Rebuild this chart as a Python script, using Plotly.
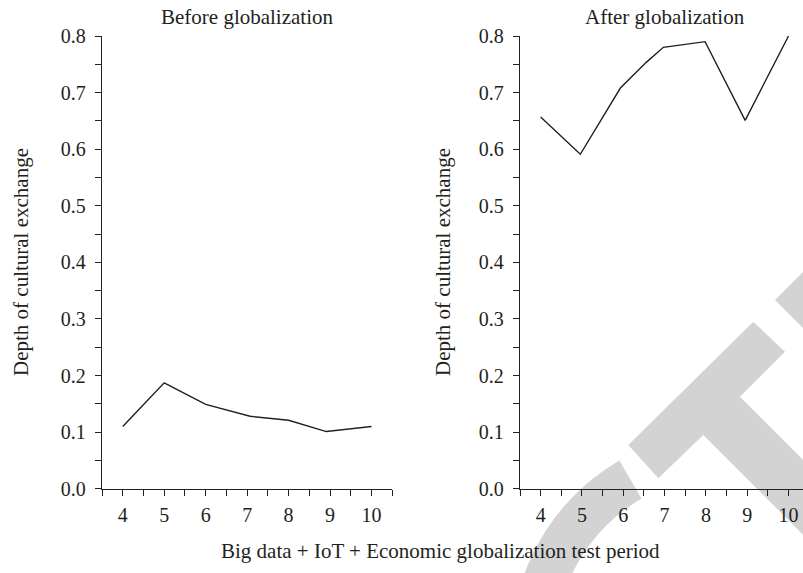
import numpy as np
import plotly.graph_objects as go

# Test periods and depth-of-cultural-exchange readings
before_period = [4, 5, 6, 7.07, 8, 8.91, 10]
before_depth = [0.11, 0.187, 0.149, 0.128, 0.121, 0.101, 0.11]

after_period = [4, 4.96, 5.93, 6.55, 6.97, 7.98, 8.95, 10]
after_depth = [0.657, 0.591, 0.708, 0.753, 0.780, 0.790, 0.651, 0.80]

x_ticks = [4, 5, 6, 7, 8, 9, 10]
y_ticks = [0.0, 0.1, 0.2, 0.3, 0.4, 0.5, 0.6, 0.7, 0.8]

panel_titles = ["Before globalization", "After globalization"]
y_title = "Depth of cultural exchange"
x_title = "Big data + IoT + Economic globalization test period"

W, H = 803, 573
INK = "#231f20"
FONT = "Liberation Serif"
FS_TICK = 20
FS_TITLE = 21


def px(x):
    return x / W


def py(y):
    return 1 - y / H


fig = go.Figure()
fig.add_trace(go.Scatter(x=before_period, y=before_depth, mode="lines",
                         line=dict(color=INK, width=1.4), xaxis="x", yaxis="y",
                         showlegend=False, hoverinfo="skip"))
fig.add_trace(go.Scatter(x=after_period, y=after_depth, mode="lines",
                         line=dict(color=INK, width=1.4), xaxis="x2", yaxis="y2",
                         showlegend=False, hoverinfo="skip"))

ydom = [py(488.7), py(36)]


def xaxis(domain, rng, anchor):
    return dict(domain=domain, range=rng, anchor=anchor, showgrid=False, zeroline=False,
                showline=True, linecolor=INK, linewidth=1.4,
                tickmode="array", tickvals=x_ticks, ticktext=[str(v) for v in x_ticks],
                ticks="outside", ticklen=6, tickwidth=1.3, tickcolor=INK,
                minor=dict(ticks="outside", ticklen=6, tickwidth=1.3, tickcolor=INK,
                           tick0=3.5, dtick=0.5),
                tickfont=dict(family=FONT, size=FS_TICK, color=INK), ticklabelstandoff=2)


def yaxis(anchor):
    return dict(domain=ydom, range=[0, 0.8], anchor=anchor, showgrid=False, zeroline=False,
                showline=True, linecolor=INK, linewidth=1.4,
                tickmode="array", tickvals=y_ticks, ticktext=[f"{v:.1f}" for v in y_ticks],
                ticks="outside", ticklen=6, tickwidth=1.3, tickcolor=INK,
                minor=dict(ticks="outside", ticklen=6, tickwidth=1.3, tickcolor=INK,
                           tick0=0, dtick=0.05),
                tickfont=dict(family=FONT, size=FS_TICK, color=INK), ticklabelstandoff=5)


# Grey diagonal watermark lettering, drawn underneath everything
def poly_path(pts):
    return "M " + " L ".join(f"{px(a):.5f},{py(b):.5f}" for a, b in pts) + " Z"


t_shape = [(628.3, 445), (658.3, 478.3), (703.3, 435), (850, 581.7), (850, 506.7),
           (740, 396.7), (785, 351.7), (753.3, 321.7)]
wedge = [(775, 300), (835, 240), (835, 360)]
cx, cy, r_out, r_in = 729, 649, 218, 174
th = np.radians(np.linspace(239.8, 175, 60))
arc = [(cx + r_out * np.cos(t), cy + r_out * np.sin(t)) for t in th] + \
      [(cx + r_in * np.cos(t), cy + r_in * np.sin(t)) for t in th[::-1]]

shapes = [dict(type="path", path=poly_path(p), xref="paper", yref="paper",
               fillcolor="#d3d3d3", line=dict(width=0), layer="below")
          for p in (t_shape, wedge, arc)]


def label(text, x, y, angle=0):
    return dict(text=text, x=px(x), y=py(y), xref="paper", yref="paper", textangle=angle,
                xanchor="center", yanchor="middle", showarrow=False,
                font=dict(family=FONT, size=FS_TITLE, color=INK))


annotations = [
    label(panel_titles[0], 247, 17),
    label(panel_titles[1], 665, 17),
    label(y_title, 21, 262, -90),
    label(y_title, 443, 262, -90),
    label(x_title, 440, 551),
]

fig.update_layout(
    width=W, height=H,
    margin=dict(l=0, r=0, t=0, b=0, autoexpand=False),
    paper_bgcolor="white", plot_bgcolor="rgba(0,0,0,0)",
    xaxis=xaxis([px(102), px(392.3)], [3.5, 10.5], "y"),
    yaxis=yaxis("x"),
    xaxis2=xaxis([px(520), 1.0], [3.5, 10.35], "y2"),
    yaxis2=yaxis("x2"),
    shapes=shapes,
    annotations=annotations,
)

fig.write_html("out.html")
